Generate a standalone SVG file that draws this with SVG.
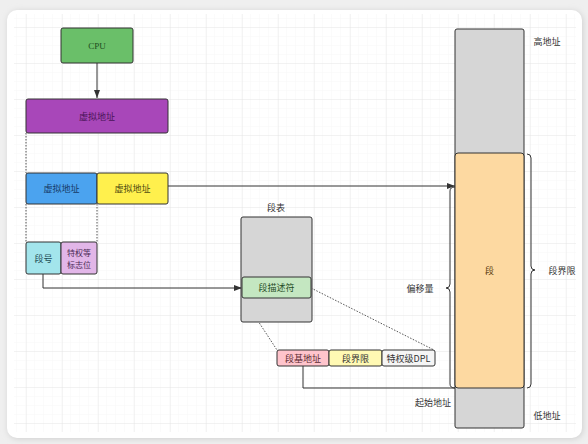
<svg xmlns="http://www.w3.org/2000/svg" width="588" height="444" viewBox="0 0 588 444">
<style>
text{font-family:"Noto Sans CJK SC","Liberation Sans",sans-serif;font-size:9px;fill:#333;text-anchor:middle;dominant-baseline:central}
.box{stroke:#333;stroke-width:1}
.ln{stroke:#333;stroke-width:1;fill:none}
.dot{stroke:#555;stroke-width:1;fill:none;stroke-dasharray:1.5 1.5}
</style>
<defs>
<pattern id="gmin" width="9" height="9" patternUnits="userSpaceOnUse" x="-1" y="1">
<path d="M9 0V9M0 9H9" stroke="#f1f1f1" stroke-width="0.6" fill="none"/>
</pattern>
<pattern id="gmaj" width="36" height="36" patternUnits="userSpaceOnUse" x="-9" y="-8">
<path d="M36 0V36M0 36H36" stroke="#e2e2e2" stroke-width="0.8" fill="none"/>
</pattern>
<marker id="ah" markerWidth="8" markerHeight="6" refX="8" refY="3" orient="auto" markerUnits="userSpaceOnUse">
<path d="M0 0L8 3L0 6Z" fill="#333"/>
</marker>
<filter id="sh" x="-5%" y="-5%" width="110%" height="110%"><feGaussianBlur stdDeviation="3"/></filter>
</defs>
<rect width="588" height="444" fill="#efefef"/>
<rect x="8" y="11" width="575" height="428" rx="10" fill="#cfcfcf" filter="url(#sh)"/>
<rect x="7" y="10" width="575" height="428" rx="10" fill="#fff"/>
<rect x="14" y="14" width="562" height="418" fill="url(#gmin)"/>
<rect x="14" y="14" width="562" height="418" fill="url(#gmaj)"/>

<g id="connectors">
<path class="ln" d="M97 63V98" marker-end="url(#ah)"/>
<path class="dot" d="M26 133V173"/>
<path class="dot" d="M26 204V242M97 204V242"/>
<path class="ln" d="M168 186H455" marker-end="url(#ah)"/>
<path class="ln" d="M43 274V288H242" marker-end="url(#ah)"/>
<path class="dot" d="M243 298L277 350M311 288L434 350"/>
<path class="ln" d="M303 366V388H455"/>
<path class="ln" d="M527 154Q531 154 531 158V266Q531 270 535 270Q531 270 531 274V384Q531 388 527 388"/>
<path class="ln" d="M455 187Q450 187 450 191V284Q450 288 446 288Q450 288 450 292V384Q450 388 455 388"/>
</g>

<g id="cpu"><rect class="box" x="61" y="28" width="72" height="35" rx="2" fill="#6abf69"/><text x="97" y="45.5" style="font-family:'Liberation Serif',serif;fill:#1e4d1e">CPU</text></g>
<g id="vaddr"><rect class="box" x="26" y="99" width="142" height="34" rx="2" fill="#a847b9"/><text x="97" y="116" style="fill:#4a1458">虚拟地址</text></g>
<g id="vaddr-seg"><rect class="box" x="26" y="173" width="71" height="31" rx="2" fill="#4ba3ef"/><text x="61.5" y="188.5" style="fill:#173a66">虚拟地址</text></g>
<g id="vaddr-off"><rect class="box" x="97" y="173" width="71" height="31" rx="2" fill="#fff04d"/><text x="132.5" y="188.5" style="fill:#4d4a10">虚拟地址</text></g>
<g id="segno"><rect class="box" x="26" y="242" width="35" height="32" rx="2" fill="#a3e5ec"/><text x="43.5" y="258" style="fill:#1d4d55">段号</text></g>
<g id="priv"><rect class="box" x="61" y="242" width="36" height="32" rx="2" fill="#e2b6e8"/><text x="79" y="252.5" style="fill:#4a2a55;font-size:8px">特权等</text><text x="79" y="264" style="fill:#4a2a55;font-size:8px">标志位</text></g>
<g id="segtable"><text x="276" y="207">段表</text><rect class="box" x="241" y="217" width="71" height="105" rx="2" fill="#d6d6d6"/></g>
<g id="desc"><rect class="box" x="242" y="277" width="69" height="21" rx="2" fill="#c4e7c1"/><text x="276.5" y="287.5" style="fill:#244d24">段描述符</text></g>
<g id="base"><rect class="box" x="277" y="350" width="52" height="16" rx="2" fill="#ffc4cc"/><text x="303" y="358" style="fill:#5a2a30">段基地址</text></g>
<g id="limit"><rect class="box" x="329" y="350" width="53" height="16" rx="2" fill="#fff9b3"/><text x="355.5" y="358">段界限</text></g>
<g id="dpl"><rect class="box" x="382" y="350" width="53" height="16" rx="2" fill="#f5f5f5"/><text x="408.5" y="358">特权级DPL</text></g>
<g id="memory"><rect class="box" x="455" y="29" width="69" height="399" rx="2" fill="#d6d6d6"/></g>
<g id="segment"><rect class="box" x="455" y="153" width="69" height="235" rx="3" fill="#fdd9a1"/><text x="489.5" y="270" style="fill:#5a3d10">段</text></g>
<g id="labels">
<text x="547" y="41">高地址</text>
<text x="547" y="415">低地址</text>
<text x="433" y="402">起始地址</text>
<text x="562" y="270">段界限</text>
<text x="420" y="288">偏移量</text>
</g>
</svg>
